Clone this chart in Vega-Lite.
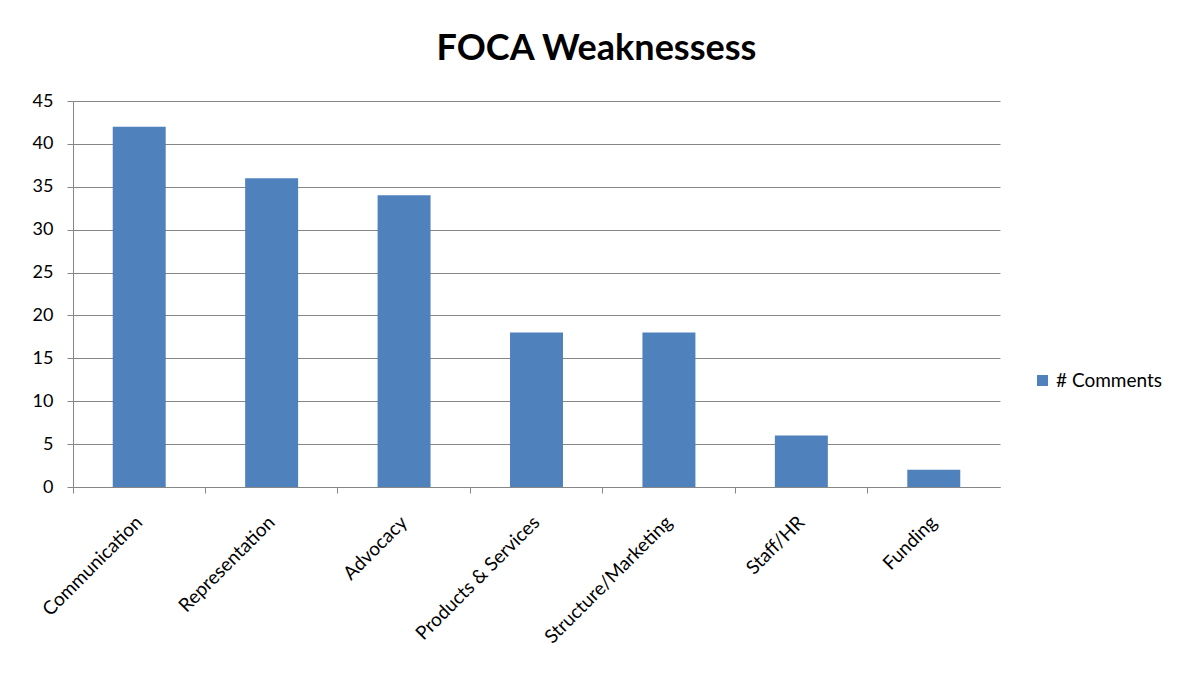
{
  "$schema": "https://vega.github.io/schema/vega-lite/v6.json",
  "width": 927,
  "height": 386,
  "autosize": "none",
  "padding": {"left": 73, "top": 101, "right": 183, "bottom": 190},
  "background": "white",
  "title": {"text": "FOCA Weaknessess", "fontSize": 36, "font": "Lato", "fontWeight": "bold", "color": "black", "anchor": "middle", "dx": 60, "offset": 24},
  "data": {"values": [
    {"category": "Communication", "series": "# Comments", "value": 42},
    {"category": "Representation", "series": "# Comments", "value": 36},
    {"category": "Advocacy", "series": "# Comments", "value": 34},
    {"category": "Products & Services", "series": "# Comments", "value": 18},
    {"category": "Structure/Marketing", "series": "# Comments", "value": 18},
    {"category": "Staff/HR", "series": "# Comments", "value": 6},
    {"category": "Funding", "series": "# Comments", "value": 2}
  ]},
  "mark": {"type": "bar", "width": {"band": 0.4}, "color": "#4F81BD"},
  "encoding": {
    "x": {"field": "category", "type": "nominal", "sort": null,
      "scale": {"paddingInner": 0, "paddingOuter": 0},
      "axis": {"title": null, "labelAngle": -45, "labelAlign": "right", "labelBaseline": "middle", "labelFont": "Lato", "labelFontSize": 19, "labelColor": "black", "bandPosition": 0, "domainColor": "#868686", "tickColor": "#868686", "tickSize": 6, "labelPadding": 26, "grid": false}},
    "y": {"field": "value", "type": "quantitative",
      "scale": {"domain": [0, 45], "nice": false},
      "axis": {"title": null, "values": [0,5,10,15,20,25,30,35,40,45], "labelFont": "Lato", "labelFontSize": 18, "labelColor": "black", "domainColor": "#868686", "tickColor": "#868686", "gridColor": "#868686", "tickSize": 6, "labelPadding": 14}},
    "fill": {"field": "series", "type": "nominal", "scale": {"range": ["#4F81BD"]},
      "legend": {"title": null, "orient": "none", "legendX": 960, "legendY": 270, "symbolType": "square", "symbolSize": 120, "labelFont": "Lato", "labelFontSize": 19, "labelColor": "black", "symbolStrokeWidth": 0}}
  },
  "config": {"view": {"stroke": null}}
}
